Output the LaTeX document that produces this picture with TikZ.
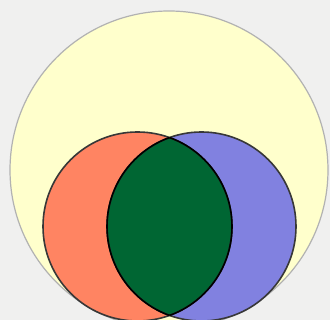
\documentclass[tikz,border=0pt]{standalone}
\usepackage{tikz}

\definecolor{bgGray}{HTML}{F0F0EF}
\definecolor{setYellow}{HTML}{FFFFCC}
\definecolor{setRed}{HTML}{FF8462}
\definecolor{setBlue}{HTML}{8181E0}
\definecolor{setGreen}{HTML}{006633}

\tikzset{
  setline/.style={draw=black!78, line width=1.6pt},
  lensline/.style={draw=black, line width=1.6pt}
}

\begin{document}
\begin{tikzpicture}[x=1pt, y=1pt]
            % Background
            \fill[bgGray] (0,0) rectangle (330,320);
            \useasboundingbox (0,0) rectangle (330,320);

            % Universe
            \fill[setYellow] (169,150) circle (159);
            \draw[black!30, line width=1.2pt] (169,150) circle (159);

            % Sets A and B
            \fill[setRed] (137.5,93.5) circle (94.5);
            \fill[setBlue] (201.5,93.5) circle (94.5);

            % Intersection
            \begin{scope}
                \clip (137.5,93.5) circle (94.5);
                \fill[setGreen] (201.5,93.5) circle (94.5);
            \end{scope}

            % Outlines
            \draw[setline] (137.5,93.5) circle (94.5);
            \draw[setline] (201.5,93.5) circle (94.5);
            \begin{scope}
                \clip (137.5,93.5) circle (94.5);
                \draw[lensline] (201.5,93.5) circle (94.5);
            \end{scope}
            \begin{scope}
                \clip (201.5,93.5) circle (94.5);
                \draw[lensline] (137.5,93.5) circle (94.5);
            \end{scope}
        \end{tikzpicture}
\end{document}
